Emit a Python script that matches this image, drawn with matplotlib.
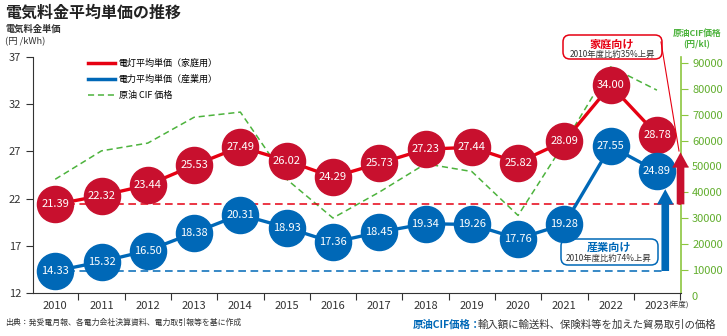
import matplotlib.pyplot as plt
import numpy as np
from matplotlib.lines import Line2D
from matplotlib.patches import FancyBboxPatch, FancyArrowPatch
from matplotlib.transforms import IdentityTransform

plt.rcParams["font.family"] = ["Noto Sans CJK JP", "DejaVu Sans"]

# data
years = ["2010", "2011", "2012", "2013", "2014", "2015", "2016",
         "2017", "2018", "2019", "2020", "2021", "2022", "2023"]
home_price = [21.39, 22.32, 23.44, 25.53, 27.49, 26.02, 24.29,
              25.73, 27.23, 27.44, 25.82, 28.09, 34.00, 28.78]
industry_price = [14.33, 15.32, 16.50, 18.38, 20.31, 18.93, 17.36,
                  18.45, 19.34, 19.26, 17.76, 19.28, 27.55, 24.89]
crude_cif = [45000, 56000, 59000, 69000, 71000, 45000, 30000,
             40000, 51000, 48000, 31000, 59000, 88500, 79500]
home_arrow = (21.39, 26.9)
industry_arrow = (14.33, 23.0)

red_line = "#E60012"
red_dot = "#C8102E"
blue = "#0068B7"
green = "#4DB33D"
green_tick = "#62AE2E"
dark = "#333333"

W, H = 727, 336
fig = plt.figure(figsize=(W / 100, H / 100), dpi=100)
ax = fig.add_axes([33 / W, 1 - 293 / H, 648 / W, 236 / H])
ax2 = ax.twinx()
ax.set_zorder(ax2.get_zorder() + 1)
ax.patch.set_visible(False)

x = np.arange(len(years))

# crude oil CIF price (right axis)
ax2.plot(x, crude_cif, color=green, lw=1.1, ls=(0, (4, 2.5)))
ax2.set_ylim(970, 92330)
ax2.set_yticks(range(10000, 100000, 10000))
ax2.tick_params(axis="y", colors="#8CC63F", labelcolor=green_tick,
                labelsize=8, length=5, pad=3)
for s in ["top", "left", "bottom"]:
    ax2.spines[s].set_visible(False)
ax2.spines["right"].set_color("#8CC63F")
ax2.spines["right"].set_linewidth(1.2)
fig.text(692 / W, 1 - 297 / H, "0", color=green_tick, fontsize=8, va="center")

# reference lines at 2010 level
ax.plot([0, 13.51], [home_price[0]] * 2, color=red_line, lw=1.1, ls=(0, (5, 3)), zorder=1)
ax.plot([0, 13.18], [industry_price[0]] * 2, color=blue, lw=1.1, ls=(0, (5, 3)), zorder=1)

# price lines with circles
ax.plot(x, home_price, color=red_line, lw=2.4, marker="o", ms=26,
        mfc=red_dot, mec=red_dot, zorder=3)
ax.plot(x, industry_price, color=blue, lw=2.4, marker="o", ms=26,
        mfc=blue, mec=blue, zorder=3)
for xi, v in zip(x, home_price):
    ax.text(xi, v, f"{v:.2f}", color="white", ha="center", va="center",
            fontsize=8, zorder=6)
for xi, v in zip(x, industry_price):
    ax.text(xi, v, f"{v:.2f}", color="white", ha="center", va="center",
            fontsize=8, zorder=6)

ax.set_xlim(-0.48, 13.52)
ax.set_ylim(12, 37)
ax.set_yticks(range(12, 38, 5))
ax.tick_params(axis="y", labelsize=8, length=5, color=dark, labelcolor=dark)
ax.set_xticks(np.arange(0.5, 14, 1))
ax.set_xticklabels([])
ax.set_xticks(x, minor=True)
ax.set_xticklabels(years, minor=True)
ax.tick_params(axis="x", which="major", length=5, color=dark)
ax.tick_params(axis="x", which="minor", length=0, pad=6, labelsize=8, labelcolor=dark)
ax.spines["top"].set_visible(False)
ax.spines["right"].set_visible(False)
for s in ["left", "bottom"]:
    ax.spines[s].set_color(dark)
fig.text(668 / W, 1 - 306 / H, "(年度)", fontsize=5.5, color=dark, va="center")

# arrows
ax.add_patch(FancyArrowPatch((13.51, home_arrow[0]), (13.51, home_arrow[1]),
                             arrowstyle="simple,head_length=1.1,head_width=1.2,tail_width=0.55",
                             mutation_scale=10, fc=red_dot, ec="none",
                             shrinkA=0, shrinkB=0, clip_on=False, zorder=7))
ax.add_patch(FancyArrowPatch((13.18, industry_arrow[0]), (13.18, industry_arrow[1]),
                             arrowstyle="simple,head_length=1.1,head_width=1.2,tail_width=0.55",
                             mutation_scale=10, fc=blue, ec="none",
                             shrinkA=0, shrinkB=0, clip_on=False, zorder=7))

# callouts (pixel coords)
px = IdentityTransform()
fig.add_artist(Line2D([661, 679], [H - 42, H - 151], transform=px, color=red_line, lw=0.8))
fig.add_artist(FancyBboxPatch((563, H - 59), 99, 24, boxstyle="round,pad=0,rounding_size=7",
                              transform=px, fc="white", ec=red_line, lw=1.1))
fig.text(612 / W, 1 - 44 / H, "家庭向け", color=red_line, fontsize=8,
         fontweight="bold", ha="center", va="center")
fig.text(612 / W, 1 - 54 / H, "2010年度比約35%上昇", color=dark, fontsize=6,
         ha="center", va="center")
fig.add_artist(FancyBboxPatch((561, H - 265), 97, 26, boxstyle="round,pad=0,rounding_size=7",
                              transform=px, fc="white", ec=blue, lw=1.1))
fig.text(609 / W, 1 - 247 / H, "産業向け", color=blue, fontsize=8,
         fontweight="bold", ha="center", va="center")
fig.text(609 / W, 1 - 258 / H, "2010年度比約74%上昇", color=dark, fontsize=6,
         ha="center", va="center")

# legend
handles = [Line2D([], [], color=red_line, lw=2.5),
           Line2D([], [], color=blue, lw=2.5),
           Line2D([], [], color=green, lw=1.1, ls=(0, (4, 2.5)))]
labels = ["電灯平均単価（家庭用）", "電力平均単価（産業用）", "原油 CIF 価格"]
ax.legend(handles, labels, loc="upper left", bbox_to_anchor=(80 / W, 1 - 51 / H),
          bbox_transform=fig.transFigure, frameon=False, fontsize=6.5,
          handlelength=3.0, handletextpad=0.4, labelspacing=0.75)

# titles and notes
fig.text(5 / W, 1 - 13 / H, "電気料金平均単価の推移", fontsize=11.5, fontweight="bold",
         color="#222222", va="center")
fig.text(5 / W, 1 - 29 / H, "電気料金単価", fontsize=6.7, fontweight="bold",
         color=dark, va="center")
fig.text(5 / W, 1 - 42 / H, "(円 /kWh)", fontsize=6.7, color=dark, va="center")
fig.text(697 / W, 1 - 33 / H, "原油CIF価格", fontsize=6.3, fontweight="bold",
         color=green, ha="center", va="center")
fig.text(697 / W, 1 - 45 / H, "(円/kl)", fontsize=6.3, fontweight="bold",
         color=green, ha="center", va="center")
fig.text(5 / W, 1 - 322 / H, "出典：発受電月報、各電力会社決算資料、電力取引報等を基に作成",
         fontsize=5.7, color=dark, va="center")
t = fig.text(413 / W, 1 - 325 / H, "原油CIF価格：", fontsize=7.5, fontweight="bold",
             color=blue, va="center")
fig.text(478 / W, 1 - 325 / H, "輸入額に輸送料、保険料等を加えた貿易取引の価格",
         fontsize=7.5, color=dark, va="center")

fig.savefig("out.png", dpi=100)
